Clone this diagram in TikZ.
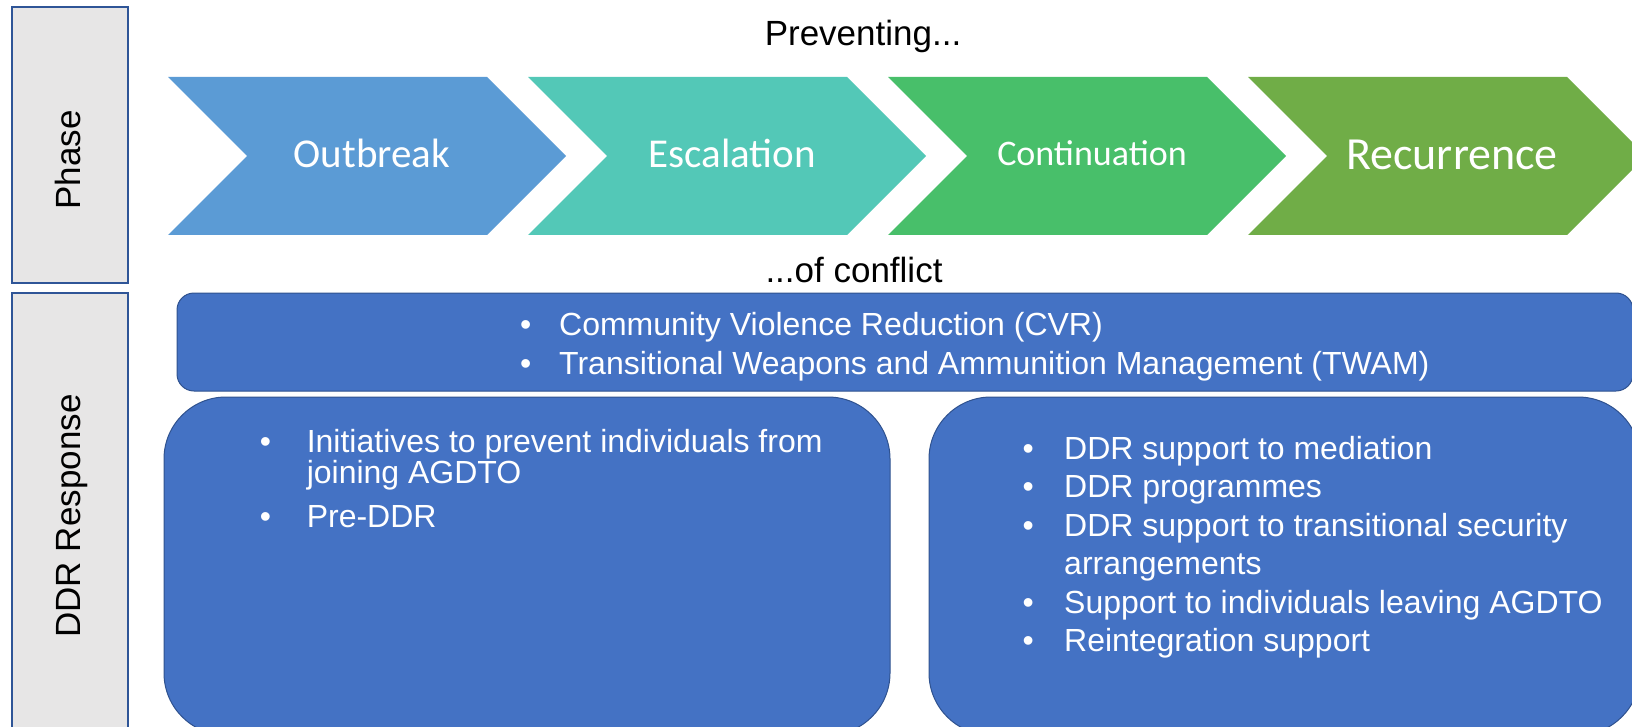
\documentclass[tikz,border=0pt]{standalone}
\usepackage{fontspec}
\setmainfont{Liberation Sans}
\newfontfamily\calibrifont{Carlito}

\definecolor{greyc}{HTML}{E7E6E6}
\definecolor{framec}{HTML}{2F5597}
\definecolor{ddrc}{HTML}{4472C4}
\definecolor{edgec}{HTML}{2F528F}
\definecolor{outbreakc}{HTML}{5B9BD5}
\definecolor{escalc}{HTML}{53C8B7}
\definecolor{contc}{HTML}{48BF6A}
\definecolor{recurc}{HTML}{70AD47}

\tikzset{
  labelbox/.style={draw=framec, line width=1.5pt, fill=greyc},
  labeltext/.style={rotate=90, anchor=base, font=\fontsize{35}{42}\selectfont},
  headtext/.style={anchor=base, font=\fontsize{35}{42}\selectfont},
  phasename/.style={anchor=base, text=white},
  ddrbox/.style={draw=edgec, line width=1pt, fill=ddrc},
  bullettext/.style={anchor=north west, inner sep=0pt, align=left, text=white}
}
\newcommand{\bulitem}[2]{\makebox[#1][l]{\textbullet}#2}

\begin{document}
\begin{tikzpicture}[x=1pt, y=-1pt]
    \clip (0,0) rectangle (1632,727);
    % row labels
    \node [labelbox, minimum width=116pt, minimum height=276pt] (phasebox) at (70,145) {};
    \node [labelbox, minimum width=116pt, minimum height=467pt] (respbox) at (70,526.5) {};
    \node [labeltext] (phase) at (80,160) {Phase};
    \node [labeltext] (ddrresp) at (80,516) {DDR Response};
    % phases of conflict
    \node [headtext] (preventing) at (863,46) {Preventing...};
    \foreach \x/\col/\nm/\lbl/\fs/\bl in {168/outbreakc/outbreak/Outbreak/41/168,
        528/escalc/escalation/Escalation/41/168,
        888/contc/continuation/Continuation/36/166,
        1248/recurc/recurrence/Recurrence/46/170} {
      \fill [\col] (\x,77) -- ++(319,0) -- ++(79,79) -- ++(-79,79) -- ++(-319,0) -- ++(79,-79) -- cycle;
      \node [phasename, font=\calibrifont\fontsize{\fs}{\fs}\selectfont] (\nm) at (\x+204,\bl) {\lbl};
    }
    \node [headtext] (conflict) at (854,282) {...of conflict};
    % responses
    \node [ddrbox, rounded corners=17pt, minimum width=1456pt, minimum height=98pt] (cvrband) at (905,342) {};
    \node [ddrbox, rounded corners=62pt, minimum width=726pt, minimum height=338pt] (prevbox) at (527,566) {};
    \node [ddrbox, rounded corners=62pt, minimum width=711pt, minimum height=338pt] (ddrbox) at (1284.5,566) {};
    \node [bullettext, font=\fontsize{32}{39}\selectfont] (cvrtext) at (520,308)
      {\rule{0pt}{27pt}\bulitem{39pt}{Community Violence Reduction (CVR)}\\
       \bulitem{39pt}{Transitional Weapons and Ammunition Management (TWAM)}};
    \node [bullettext, font=\fontsize{32}{30.5}\selectfont] (prevtext) at (259.6,425.5)
      {\rule{0pt}{27pt}\bulitem{47pt}{Initiatives to prevent individuals from}\\
       \hspace*{47pt}joining AGDTO\\[14pt]
       \bulitem{47pt}{Pre-DDR}};
    \node [bullettext, font=\fontsize{32}{38.5}\selectfont] (ddrtext) at (1022.4,432)
      {\rule{0pt}{27pt}\bulitem{41.6pt}{DDR support to mediation}\\
       \bulitem{41.6pt}{DDR programmes}\\
       \bulitem{41.6pt}{DDR support to transitional security}\\
       \hspace*{41.6pt}arrangements\\
       \bulitem{41.6pt}{Support to individuals leaving AGDTO}\\
       \bulitem{41.6pt}{Reintegration support}};
\end{tikzpicture}
\end{document}
